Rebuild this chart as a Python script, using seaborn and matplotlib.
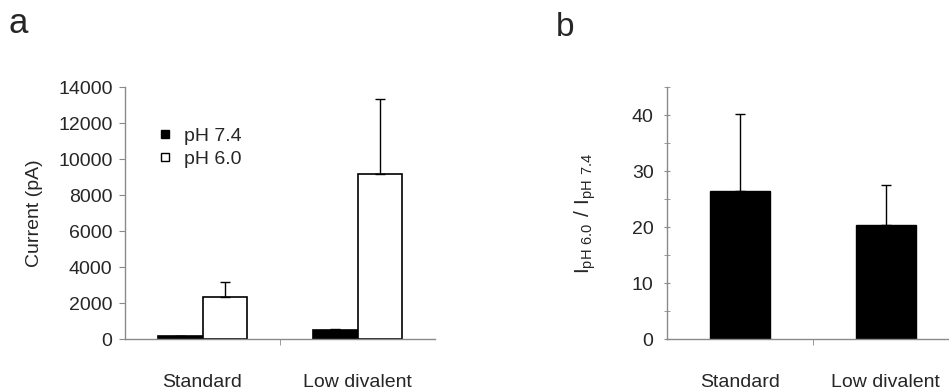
import numpy as np
import pandas as pd
import matplotlib
matplotlib.use("Agg")
import matplotlib.pyplot as plt
from matplotlib.lines import Line2D
from matplotlib.ticker import MultipleLocator, FixedLocator
import seaborn as sns

# data
conditions = ["Standard", "Low divalent"]
ph_levels = ["pH 7.4", "pH 6.0"]
current_ph74 = [160, 500]
current_ph74_err = [50, 90]
current_ph60 = [2350, 9170]
current_ph60_err = [850, 4160]
ratio = [26.4, 20.5]
ratio_err = [13.8, 7.0]

sns.set_style("white")
plt.rcParams["font.family"] = ["Liberation Sans", "DejaVu Sans"]
plt.rcParams["font.size"] = 14
plt.rcParams["mathtext.fontset"] = "custom"
plt.rcParams["mathtext.rm"] = "Liberation Sans"

GRAY = "#8a8a8a"

df_a = pd.DataFrame({
    "condition": conditions * 2,
    "ph": [ph_levels[0]] * 2 + [ph_levels[1]] * 2,
    "current": current_ph74 + current_ph60,
})
err_a = {ph_levels[0]: current_ph74_err, ph_levels[1]: current_ph60_err}
df_b = pd.DataFrame({"condition": conditions, "ratio": ratio})

fig = plt.figure(figsize=(9.49, 3.91), dpi=100)
W, H = 949, 391
ax_a = fig.add_axes([125 / W, 1 - 339.3 / H, 310 / W, 252 / H])
ax_b = fig.add_axes([666.7 / W, 1 - 339.3 / H, 292 / W, 252 / H])

# panel a
sns.barplot(data=df_a, x="condition", y="current", hue="ph", hue_order=ph_levels,
            palette={ph_levels[0]: "black", ph_levels[1]: "white"},
            edgecolor="black", linewidth=1.2, width=0.58, gap=0,
            errorbar=None, legend=False, ax=ax_a)
for cont, ph in zip(ax_a.containers, ph_levels):
    for bar, e in zip(cont, err_a[ph]):
        ax_a.errorbar(bar.get_x() + bar.get_width() / 2, bar.get_height(),
                      yerr=[[0], [e]], fmt="none", ecolor="black",
                      elinewidth=1, capsize=3.5, capthick=1)
ax_a.set_ylim(0, 14000)
ax_a.set_xlim(-0.5, 1.5)
ax_a.yaxis.set_major_locator(MultipleLocator(2000))
ax_a.set_ylabel("Current (pA)", labelpad=11)
ax_a.set_xlabel("")

handles = [Line2D([], [], marker="s", ls="none", mfc="black", mec="black", ms=6),
           Line2D([], [], marker="s", ls="none", mfc="white", mec="black", ms=6, mew=1)]
ax_a.legend(handles, ph_levels, loc="upper left", bbox_to_anchor=(0.085, 0.873),
            frameon=False, handlelength=0.6, handletextpad=0.7,
            labelspacing=0.3, fontsize=14, borderaxespad=0)

# panel b
sns.barplot(data=df_b, x="condition", y="ratio", color="black",
            edgecolor="black", width=0.41, errorbar=None, ax=ax_b)
for bar, e in zip(ax_b.patches, ratio_err):
    ax_b.errorbar(bar.get_x() + bar.get_width() / 2, bar.get_height(),
                  yerr=[[0], [e]], fmt="none", ecolor="black",
                  elinewidth=1, capsize=3.5, capthick=1)
ax_b.set_ylim(0, 45)
ax_b.set_xlim(-0.5, 1.5)
ax_b.yaxis.set_major_locator(FixedLocator([0, 10, 20, 30, 40]))
ax_b.yaxis.set_minor_locator(MultipleLocator(5))
ax_b.set_ylabel(r"$\mathregular{I_{pH\ 6.0}\ /\ I_{pH\ 7.4}}$", labelpad=24, fontsize=15)
ax_b.set_xlabel("")

for ax in (ax_a, ax_b):
    for s in ("top", "right"):
        ax.spines[s].set_visible(False)
    for s in ("left", "bottom"):
        ax.spines[s].set_color(GRAY)
        ax.spines[s].set_linewidth(1)
    ax.xaxis.set_minor_locator(FixedLocator([0.5]))
    ax.tick_params(axis="x", which="major", length=0, pad=25, labelsize=14)
    ax.tick_params(axis="x", which="minor", bottom=True, length=4, color=GRAY, direction="out")
    ax.tick_params(axis="y", which="both", left=True, color=GRAY, labelsize=14)
ax_a.tick_params(axis="y", which="major", length=4, direction="out", pad=5)
ax_b.tick_params(axis="y", which="both", length=5, direction="inout", pad=7)

fig.text(9 / W, 1 - 33 / H, "a", fontsize=25, va="baseline", ha="left")
fig.text(556 / W, 1 - 36 / H, "b", fontsize=24, va="baseline", ha="left")

fig.savefig("out.png", dpi=100)
